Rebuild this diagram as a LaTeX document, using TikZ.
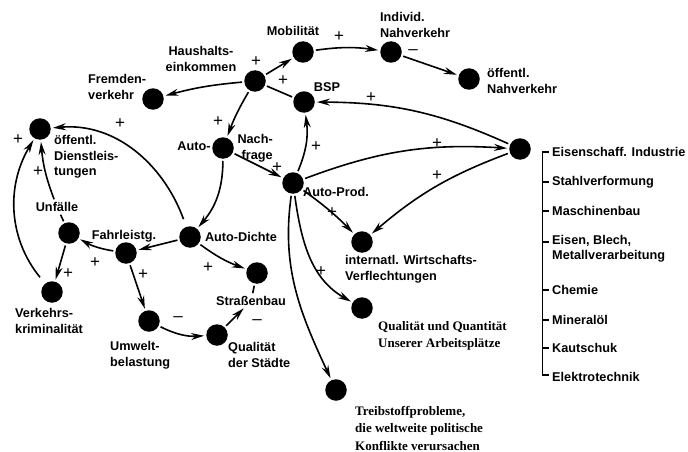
\documentclass[tikz,border=0pt]{standalone}
\usepackage{fontspec}
\setmainfont{Liberation Sans}
\newfontfamily\serifbold{Liberation Serif}
\usetikzlibrary{arrows.meta}
\begin{document}
\begin{tikzpicture}[x=1pt,y=1pt,
  dot/.style={circle,fill=black,inner sep=0pt,minimum size=21.5pt},
  lbl/.style={font=\fontsize{12.7}{15.5}\selectfont\bfseries, inner sep=1pt, align=left},
  slbl/.style={font=\fontsize{13}{17.5}\selectfont\serifbold\bfseries, inner sep=1pt, align=left},
  sgn/.style={font=\fontsize{17}{17}\selectfont, inner sep=0pt},
  edge/.style={line width=1.6pt, -{Stealth[length=13pt,width=7pt]}, shorten >=2pt, shorten <=2pt},
  plain/.style={line width=1.6pt, shorten <=2pt, shorten >=2pt},
]
\useasboundingbox (0,0) rectangle (688,-452);

% dots
\node[dot] (mob) at (303,-52) {};
\node[dot] (ind) at (391,-52) {};
\node[dot] (on)  at (469,-79) {};
\node[dot] (hh)  at (255,-81) {};
\node[dot] (bsp) at (304,-102) {};
\node[dot] (fr)  at (153,-99) {};
\node[dot] (dl)  at (40,-129) {};
\node[dot] (an)  at (223,-148) {};
\node[dot] (ap)  at (293,-183) {};
\node[dot] (ei)  at (520,-149) {};
\node[dot] (uf)  at (69,-233) {};
\node[dot] (fg)  at (126,-253) {};
\node[dot] (ad)  at (190,-237) {};
\node[dot] (vk)  at (52,-292) {};
\node[dot] (sb)  at (257,-273) {};
\node[dot] (uw)  at (149,-321) {};
\node[dot] (qs)  at (217,-335) {};
\node[dot] (iw)  at (362,-242) {};
\node[dot] (qq)  at (362,-308) {};
\node[dot] (tb)  at (336,-390) {};

% labels
\node[lbl] (mobL) at (293,-31) {Mobilität};
\node[lbl,anchor=west] (indL) at (379,-25) {Individ.\\Nahverkehr};
\node[lbl,anchor=west] (onL) at (486,-81) {öffentl.\\Nahverkehr};
\node[lbl] (bspL) at (327,-87) {BSP};
\node[lbl,align=center] (hhL) at (201,-59) {Haushalts-\\einkommen};
\node[lbl,anchor=west] (frL) at (87,-87) {Fremden-\\verkehr};
\node[lbl,anchor=west] (dlL) at (53,-157) {öffentl.\\Dienstleis-\\tungen};
\node[lbl] (anL) at (194,-146) {Auto-};
\node[lbl,anchor=east,align=right] (anR) at (274,-148) {Nach-\\frage};
\node[lbl] (apL) at (336,-192) {Auto-Prod.};
\node[lbl] (adL) at (241,-237) {Auto-Dichte};
\node[lbl] (ufL) at (57,-207) {Unfälle};
\node[lbl] (fgL) at (124,-236) {Fahrleistg.};
\node[lbl,anchor=west] (vkL) at (14,-321) {Verkehrs-\\kriminalität};
\node[lbl] (sbL) at (251,-301) {Straßenbau};
\node[lbl,anchor=west] (uwL) at (109,-355) {Umwelt-\\belastung};
\node[lbl,anchor=west] (qsL) at (227,-355) {Qualität\\der Städte};
\node[lbl,anchor=west] (iwL) at (344,-269) {internatl. Wirtschafts-\\Verflechtungen};
\node[slbl,anchor=west] (qqL) at (377,-336) {Qualität und Quantität\\Unserer Arbeitsplätze};
\node[slbl,anchor=west] (tbL) at (354,-428) {Treibstoffprobleme,\\die weltweite politische\\Konflikte verursachen};

% industry list
\node[lbl,anchor=west] (l1) at (551,-152) {Eisenschaff. Industrie};
\node[lbl,anchor=west] (l2) at (551,-182) {Stahlverformung};
\node[lbl,anchor=west] (l3) at (551,-211) {Maschinenbau};
\node[lbl,anchor=north west] (l4) at (551,-234) {Eisen, Blech,\\Metallverarbeitung};
\node[lbl,anchor=west] (l5) at (551,-290) {Chemie};
\node[lbl,anchor=west] (l6) at (551,-320) {Mineralöl};
\node[lbl,anchor=west] (l7) at (551,-348) {Kautschuk};
\node[lbl,anchor=west] (l8) at (551,-377) {Elektrotechnik};
\draw[line width=1.6pt] (549,-152) -- (542.5,-152) -- (542.5,-375) -- (549,-375);
\foreach \yy in {182,211,242,290,320,348}
  \draw[line width=1.6pt] (542.5,-\yy) -- (549,-\yy);

% connectors
\draw[edge] (hh) -- (mob);
\draw[edge] (mob) to[bend left=8] (ind);
\draw[edge] (ind) -- (on);
\draw[plain] (hh) -- (bsp);
\draw[edge] (hh) to[bend right=5] (fr);
\draw[edge] (hh) to[bend right=5] (an);
\draw[edge] (an) to[bend left=20] (ad);
\draw[edge] (an) -- (ap);
\draw[edge] (ap) to[bend right=15] (bsp);
\draw[edge] (ei) to[bend right=12] (bsp);
\draw[edge] (ap) to[bend left=12] (ei);
\draw[edge] (ei) to[bend right=10] (iw);
\draw[edge] (ap) to[bend left=5] (iw);
\draw[edge] (ap) to[out=-82, in=150] (qq);
\draw[edge] (ap) to[out=-98, in=115] (tb);
\draw[edge, shorten <=8pt] (ad) to[out=110, in=5] (dl);
\draw[edge] (ad) -- (fg);
\draw[edge] (fg) to[bend left=10] (uf);
\draw[plain] (uf) -- (ufL);
\draw[edge] (ufL) to[bend left=8] (dl);
\draw[edge] (uf) -- (vk);
\draw[edge, shorten <=8pt] (vk) to[bend left=35] (dl);
\draw[edge] (ad) to[bend right=8] (sb);
\draw[edge] (fg) -- (uw);
\draw[edge] (uw) to[bend right=15] (qs);
\draw[plain] (sb) -- (sbL);
\draw[edge] (qs) -- (sbL);

% signs
\node[sgn] (s1) at (256,-62) {+};
\node[sgn] (s2) at (339,-37) {+};
\node[sgn] (s3) at (413,-52) {–};
\node[sgn] (s4) at (283,-81) {+};
\node[sgn] (s5) at (218,-122) {+};
\node[sgn] (s6) at (316,-147) {+};
\node[sgn] (s7) at (277,-168) {+};
\node[sgn] (s8) at (371,-98) {+};
\node[sgn] (s9) at (437,-144) {+};
\node[sgn] (s10) at (437,-176) {+};
\node[sgn] (s11) at (332,-213) {+};
\node[sgn] (s12) at (321,-272) {+};
\node[sgn] (s13) at (120,-124) {+};
\node[sgn] (s14) at (18,-140) {+};
\node[sgn] (s15) at (38,-172) {+};
\node[sgn] (s16) at (95,-263) {+};
\node[sgn] (s17) at (68,-274) {+};
\node[sgn] (s18) at (143,-275) {+};
\node[sgn] (s19) at (208,-268) {+};
\node[sgn] (s20) at (178,-319) {–};
\node[sgn] (s21) at (257,-322) {–};
\end{tikzpicture}
\end{document}
